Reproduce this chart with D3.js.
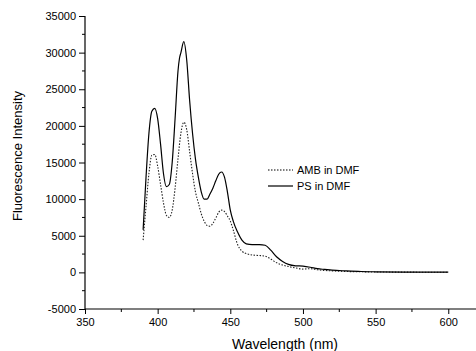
<!DOCTYPE html>
<html>
<head>
<meta charset="utf-8">
<script src="https://cdn.jsdelivr.net/npm/d3@7"></script>
<style>
  body { margin: 0; background: #fff; }
  svg { display: block; font-family: "Liberation Sans", Arial, sans-serif; }
</style>
</head>
<body>
<svg width="476" height="351"></svg>
<script>
// ------------------------------------------------------
// DATA
// ------------------------------------------------------
var psWave = [390, 392, 394, 396, 398, 400, 402, 404, 406, 408, 410, 412, 414, 415, 416, 418, 420, 422, 424, 426,
              428, 430, 432, 434, 436, 438, 440, 442, 444, 446, 448, 450, 452, 455, 458, 461, 465, 470, 474, 478,
              482, 486, 490, 495, 500, 505, 510, 515, 520, 530, 540, 550, 570, 600];
var psValue = [5800, 13000, 19000, 22000, 22400, 21000, 17500, 13500, 11700, 12000, 15000, 21000, 27500, 29200, 30000, 31500, 29000, 23500, 19000, 15500,
               13000, 11000, 10000, 10000, 10700, 11500, 12500, 13400, 13700, 13000, 11000, 8500, 7000, 5500, 4400, 3900, 3800, 3800, 3700, 3000,
               2100, 1500, 1100, 900, 850, 700, 500, 400, 300, 200, 120, 80, 40, 30];

var ambWave = [390, 392, 394, 396, 398, 400, 402, 404, 406, 408, 410, 412, 414, 416, 418, 420, 422, 424, 426, 428,
               430, 432, 434, 436, 438, 440, 442, 444, 446, 448, 450, 452, 455, 458, 462, 466, 470, 474, 478, 482,
               486, 490, 495, 500, 505, 510, 520, 530, 540, 560, 600];
var ambValue = [4400, 9000, 13500, 16000, 16100, 14500, 12000, 9500, 7800, 7500, 8500, 11500, 15500, 19000, 20500, 19500, 16500, 13500, 11000, 9500,
                8000, 7000, 6400, 6300, 6700, 7400, 8200, 8500, 8300, 7700, 7000, 5800, 3800, 2900, 2500, 2350, 2300, 2200, 1800, 1300,
                1000, 800, 600, 450, 500, 350, 200, 120, 80, 40, 20];

var xTicks = [350, 400, 450, 500, 550, 600];
var yTicks = [-5000, 0, 5000, 10000, 15000, 20000, 25000, 30000, 35000];
var seriesNames = ["AMB in DMF", "PS in DMF"];

// ------------------------------------------------------
// SETUP
// ------------------------------------------------------
var svg = d3.select("svg");

var x = d3.scaleLinear().domain([350, 625]).range([85, 484.6]);
var y = d3.scaleLinear().domain([-5000, 35000]).range([309, 16]);

// plain hyphen for negatives, like the original
var plainFormat = function(d) { return String(d); };

// y axis
var yAxis = svg.append("g")
    .attr("transform", "translate(85,0)")
    .call(d3.axisLeft(y).tickValues(yTicks).tickSize(6).tickPadding(3).tickFormat(plainFormat));
yAxis.select(".domain").remove();
yAxis.selectAll("text").attr("font-size", 11).attr("font-family", "Liberation Sans, Arial, sans-serif").attr("fill", "#000");
yAxis.selectAll("line").attr("stroke", "#000");

// y minor ticks
svg.append("g").selectAll("line")
    .data(d3.range(-2500, 35000, 5000))
    .enter().append("line")
    .attr("x1", 82).attr("x2", 85)
    .attr("y1", function(d) { return y(d); })
    .attr("y2", function(d) { return y(d); })
    .attr("stroke", "#000");

// x axis
var xAxis = svg.append("g")
    .attr("transform", "translate(0,309)")
    .call(d3.axisBottom(x).tickValues(xTicks).tickSize(5).tickPadding(4).tickFormat(plainFormat));
xAxis.select(".domain").remove();
xAxis.selectAll("text").attr("font-size", 11).attr("font-family", "Liberation Sans, Arial, sans-serif").attr("fill", "#000");
xAxis.selectAll("line").attr("stroke", "#000");

// x minor ticks
svg.append("g").selectAll("line")
    .data(d3.range(375, 625, 50))
    .enter().append("line")
    .attr("y1", 309).attr("y2", 312)
    .attr("x1", function(d) { return x(d); })
    .attr("x2", function(d) { return x(d); })
    .attr("stroke", "#000");

// axis lines
svg.append("line").attr("x1", 85).attr("x2", 85).attr("y1", y(35000)).attr("y2", 309)
    .attr("stroke", "#000").attr("stroke-width", 1.2);
svg.append("line").attr("x1", 85).attr("x2", 476).attr("y1", 309).attr("y2", 309)
    .attr("stroke", "#000").attr("stroke-width", 1.2);

// axis titles
svg.append("text")
    .attr("transform", "translate(22,156) rotate(-90)")
    .attr("text-anchor", "middle")
    .attr("font-size", 13)
    .text("Fluorescence Intensity");

svg.append("text")
    .attr("x", 285).attr("y", 349)
    .attr("text-anchor", "middle")
    .attr("font-size", 14)
    .text("Wavelength (nm)");

// ------------------------------------------------------
// LINES
// ------------------------------------------------------
var line = d3.line()
    .x(function(d) { return x(d[0]); })
    .y(function(d) { return y(d[1]); })
    .curve(d3.curveMonotoneX);

var ambData = ambWave.map(function(w, i) { return [w, ambValue[i]]; });
var psData = psWave.map(function(w, i) { return [w, psValue[i]]; });

svg.append("path")
    .datum(ambData)
    .attr("d", line)
    .attr("fill", "none")
    .attr("stroke", "#222")
    .attr("stroke-width", 1.1)
    .attr("stroke-dasharray", "1.5,1.5");

svg.append("path")
    .datum(psData)
    .attr("d", line)
    .attr("fill", "none")
    .attr("stroke", "#000")
    .attr("stroke-width", 1.2);

// ------------------------------------------------------
// LEGEND
// ------------------------------------------------------
var legend = svg.append("g").selectAll("g")
    .data(seriesNames)
    .enter().append("g")
    .attr("transform", function(d, i) { return "translate(268," + (170 + i * 16) + ")"; });

legend.append("line")
    .attr("x1", 0).attr("x2", 25)
    .attr("stroke", "#000")
    .attr("stroke-width", function(d, i) { return i == 0 ? 1.1 : 1.2; })
    .attr("stroke-dasharray", function(d, i) { return i == 0 ? "1.5,1.5" : null; });

legend.append("text")
    .attr("x", 29)
    .attr("y", 4)
    .attr("font-size", 11)
    .text(function(d) { return d; });
</script>
</body>
</html>
